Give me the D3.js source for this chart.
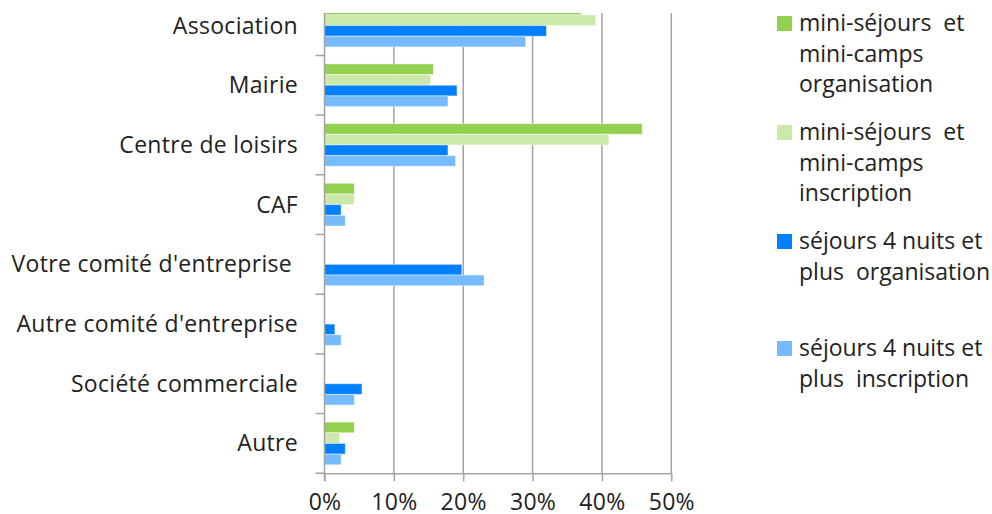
<!DOCTYPE html>
<html>
<head>
<meta charset="utf-8">
<script src="https://cdn.jsdelivr.net/npm/d3@7/dist/d3.min.js"></script>
<style>
  html, body { margin: 0; padding: 0; background: #fff; }
  svg { display: block; }
  text { font-family: "Open Sans", sans-serif; fill: #222; }
</style>
</head>
<body>
<svg id="chart" width="992" height="514"></svg>
<script>
// Categories (top to bottom)
const categories = [
  "Association", "Mairie", "Centre de loisirs", "CAF",
  "Votre comité d'entreprise", "Autre comité d'entreprise",
  "Société commerciale", "Autre"
];

// Series labels (legend lines)
const seriesNames = [
  ["mini-séjours  et", "mini-camps", "organisation"],
  ["mini-séjours  et", "mini-camps", "inscription"],
  ["séjours 4 nuits et", "plus  organisation"],
  ["séjours 4 nuits et", "plus  inscription"]
];

// Values in percent, one array per series, in category order
const miniOrganisation = [37.0, 15.7, 45.8, 4.3, 0, 0, 0, 4.3];
const miniInscription  = [39.1, 15.3, 41.0, 4.3, 0, 0, 0, 2.2];
const sejOrganisation  = [32.0, 19.1, 17.8, 2.4, 19.8, 1.5, 5.4, 3.0];
const sejInscription   = [29.0, 17.8, 18.9, 3.0, 23.0, 2.4, 4.3, 2.4];

const xTicks = [0, 10, 20, 30, 40, 50];

const series = [miniOrganisation, miniInscription, sejOrganisation, sejInscription];
const colors = ["#92D050", "#CDE9AA", "#0080FF", "#77BBFF"];

const FONT_SIZE = 23;

const svg = d3.select("#chart");

const plot = { left: 324.5, right: 671.3, top: -4.3, bottom: 473.3, visibleTop: 13 };

const x = d3.scaleLinear().domain([0, 50]).range([plot.left, plot.right]);
const y = d3.scaleBand().domain(categories).range([plot.top, plot.bottom])
  .paddingInner(0.285).paddingOuter(0.1425);
const ySub = d3.scaleBand().domain(d3.range(series.length)).range([0, y.bandwidth()]);
const step = y.step();

// Clip region of the plotting area
svg.append("defs").append("clipPath").attr("id", "plotClip")
  .append("rect")
  .attr("x", plot.left - 12).attr("y", plot.visibleTop)
  .attr("width", plot.right - plot.left + 24)
  .attr("height", plot.bottom - plot.visibleTop + 12);

// Vertical gridlines
svg.append("g").selectAll("line").data(xTicks.slice(1)).join("line")
  .attr("x1", d => x(d)).attr("x2", d => x(d))
  .attr("y1", plot.visibleTop).attr("y2", plot.bottom)
  .attr("stroke", "#A3A3A3").attr("stroke-width", 1.5);

// Bars
const barLayer = svg.append("g").attr("clip-path", "url(#plotClip)");
const rows = [];
categories.forEach((c, i) => {
  series.forEach((s, j) => rows.push({ cat: c, s: j, v: s[i] }));
});
barLayer.selectAll("rect").data(rows.filter(d => d.v > 0)).join("rect")
  .attr("x", x(0))
  .attr("y", d => y(d.cat) + ySub(d.s))
  .attr("width", d => x(d.v) - x(0))
  .attr("height", ySub.bandwidth())
  .attr("fill", d => colors[d.s])
  .attr("stroke", "#ffffff").attr("stroke-opacity", 0.45).attr("stroke-width", 1);

// Left (category) axis: line, separator ticks, labels
const axisG = svg.append("g").attr("clip-path", "url(#plotClip)");
axisG.append("line")
  .attr("x1", plot.left).attr("x2", plot.left)
  .attr("y1", plot.visibleTop).attr("y2", plot.bottom + 8)
  .attr("stroke", "#A3A3A3").attr("stroke-width", 1.5);
const seps = categories.map(c => y(c) - y.paddingOuter() * step + step);
axisG.selectAll("line.sep").data(seps).join("line").attr("class", "sep")
  .attr("x1", plot.left - 9).attr("x2", plot.left)
  .attr("y1", d => d).attr("y2", d => d)
  .attr("stroke", "#A3A3A3").attr("stroke-width", 1.5);

svg.append("g").selectAll("text").data(categories).join("text")
  .attr("x", d => d === "Votre comité d'entreprise" ? 292 : 298)
  .attr("y", d => y(d) + y.bandwidth() / 2 + 8)
  .attr("text-anchor", "end")
  .attr("font-size", FONT_SIZE)
  .attr("letter-spacing", 0.3)
  .text(d => d);

// Bottom (value) axis
const xAxis = d3.axisBottom(x).tickValues(xTicks).tickFormat(d => d + "%")
  .tickSize(8).tickSizeOuter(0);
const gx = svg.append("g").attr("transform", `translate(0,${plot.bottom})`).call(xAxis);
gx.select(".domain").attr("stroke", "#A3A3A3").attr("stroke-width", 1.5);
gx.selectAll(".tick line").attr("stroke", "#A3A3A3").attr("stroke-width", 1.5);
gx.selectAll(".tick text")
  .attr("font-family", "Open Sans, sans-serif")
  .attr("font-size", FONT_SIZE).attr("fill", "#222")
  .attr("letter-spacing", 0.3)
  .attr("y", 0).attr("dy", 0)
  .attr("transform", "translate(0,36.5)");

// Legend
const legendTops = [31, 140, 249, 356];
const legend = svg.append("g");
seriesNames.forEach((lines, i) => {
  legend.append("rect")
    .attr("x", 777).attr("y", legendTops[i] - 15)
    .attr("width", 15).attr("height", 15)
    .attr("fill", colors[i]);
  const t = legend.append("text").attr("font-size", FONT_SIZE);
  lines.forEach((ln, k) => {
    t.append("tspan").attr("x", 799).attr("y", legendTops[i] + k * 30.5)
      .style("white-space", "pre").text(ln);
  });
});
</script>
</body>
</html>
